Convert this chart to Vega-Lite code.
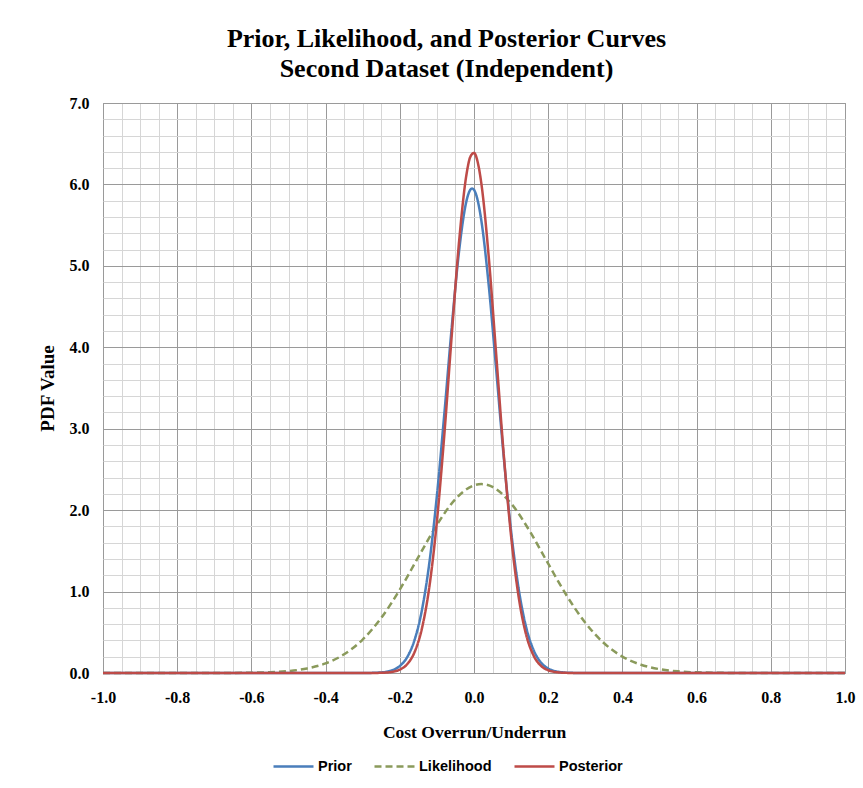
{
  "$schema": "https://vega.github.io/schema/vega-lite/v6.json",
  "width": 742,
  "height": 570,
  "autosize": {"type": "none"},
  "padding": {"left": 103, "top": 103, "right": 18, "bottom": 115},
  "background": "white",
  "title": {
    "text": ["Prior, Likelihood, and Posterior Curves", "Second Dataset (Independent)"],
    "font": "Liberation Serif",
    "fontSize": 26,
    "fontWeight": "bold",
    "color": "#000000",
    "lineHeight": 30,
    "offset": 13,
    "anchor": "middle",
    "frame": "bounds"
  },
  "config": {
    "view": {"stroke": "#8c8c8c", "strokeWidth": 1},
    "legend": {
      "orient": "none",
      "legendX": 169,
      "legendY": 642,
      "direction": "horizontal",
      "symbolType": "stroke",
      "symbolSize": 1600,
      "symbolStrokeWidth": 2.5,
      "labelFont": "Liberation Sans",
      "labelFontSize": 14.5,
      "labelFontWeight": "bold",
      "labelColor": "#000000",
      "columnPadding": 17,
      "labelOffset": 3
    }
  },
  "data": {
    "values": [
      {"x": -1.0, "series": "Likelihood", "pdf": 0},
      {"x": -0.9, "series": "Likelihood", "pdf": 0},
      {"x": -0.8, "series": "Likelihood", "pdf": 0},
      {"x": -0.75, "series": "Likelihood", "pdf": 0.0001},
      {"x": -0.7, "series": "Likelihood", "pdf": 0.0004},
      {"x": -0.65, "series": "Likelihood", "pdf": 0.0012},
      {"x": -0.6, "series": "Likelihood", "pdf": 0.0035},
      {"x": -0.55, "series": "Likelihood", "pdf": 0.0096},
      {"x": -0.5, "series": "Likelihood", "pdf": 0.024},
      {"x": -0.45, "series": "Likelihood", "pdf": 0.0555},
      {"x": -0.4, "series": "Likelihood", "pdf": 0.1177},
      {"x": -0.35, "series": "Likelihood", "pdf": 0.2294},
      {"x": -0.3, "series": "Likelihood", "pdf": 0.411},
      {"x": -0.25, "series": "Likelihood", "pdf": 0.677},
      {"x": -0.2, "series": "Likelihood", "pdf": 1.024},
      {"x": -0.15, "series": "Likelihood", "pdf": 1.424},
      {"x": -0.1, "series": "Likelihood", "pdf": 1.819},
      {"x": -0.05, "series": "Likelihood", "pdf": 2.136},
      {"x": 0.0, "series": "Likelihood", "pdf": 2.304},
      {"x": 0.02, "series": "Likelihood", "pdf": 2.32},
      {"x": 0.05, "series": "Likelihood", "pdf": 2.285},
      {"x": 0.1, "series": "Likelihood", "pdf": 2.082},
      {"x": 0.15, "series": "Likelihood", "pdf": 1.744},
      {"x": 0.2, "series": "Likelihood", "pdf": 1.342},
      {"x": 0.25, "series": "Likelihood", "pdf": 0.949},
      {"x": 0.3, "series": "Likelihood", "pdf": 0.617},
      {"x": 0.35, "series": "Likelihood", "pdf": 0.368},
      {"x": 0.4, "series": "Likelihood", "pdf": 0.202},
      {"x": 0.45, "series": "Likelihood", "pdf": 0.102},
      {"x": 0.5, "series": "Likelihood", "pdf": 0.0472},
      {"x": 0.55, "series": "Likelihood", "pdf": 0.0201},
      {"x": 0.6, "series": "Likelihood", "pdf": 0.0079},
      {"x": 0.65, "series": "Likelihood", "pdf": 0.0028},
      {"x": 0.7, "series": "Likelihood", "pdf": 0.0009},
      {"x": 0.75, "series": "Likelihood", "pdf": 0.0003},
      {"x": 0.8, "series": "Likelihood", "pdf": 0.0001},
      {"x": 0.9, "series": "Likelihood", "pdf": 0},
      {"x": 1.0, "series": "Likelihood", "pdf": 0},

      {"x": -1.0, "series": "Prior", "pdf": 0},
      {"x": -0.3, "series": "Prior", "pdf": 0.0004},
      {"x": -0.28, "series": "Prior", "pdf": 0.0013},
      {"x": -0.26, "series": "Prior", "pdf": 0.0043},
      {"x": -0.24, "series": "Prior", "pdf": 0.0127},
      {"x": -0.22, "series": "Prior", "pdf": 0.0345},
      {"x": -0.2, "series": "Prior", "pdf": 0.0861},
      {"x": -0.18, "series": "Prior", "pdf": 0.196},
      {"x": -0.16, "series": "Prior", "pdf": 0.409},
      {"x": -0.14, "series": "Prior", "pdf": 0.781},
      {"x": -0.12, "series": "Prior", "pdf": 1.364},
      {"x": -0.1, "series": "Prior", "pdf": 2.178},
      {"x": -0.08, "series": "Prior", "pdf": 3.18},
      {"x": -0.06, "series": "Prior", "pdf": 4.248},
      {"x": -0.04, "series": "Prior", "pdf": 5.191},
      {"x": -0.02, "series": "Prior", "pdf": 5.803},
      {"x": -0.01, "series": "Prior", "pdf": 5.934},
      {"x": -0.005, "series": "Prior", "pdf": 5.95},
      {"x": 0.0, "series": "Prior", "pdf": 5.934},
      {"x": 0.01, "series": "Prior", "pdf": 5.803},
      {"x": 0.02, "series": "Prior", "pdf": 5.55},
      {"x": 0.04, "series": "Prior", "pdf": 4.749},
      {"x": 0.06, "series": "Prior", "pdf": 3.716},
      {"x": 0.08, "series": "Prior", "pdf": 2.661},
      {"x": 0.1, "series": "Prior", "pdf": 1.743},
      {"x": 0.12, "series": "Prior", "pdf": 1.044},
      {"x": 0.14, "series": "Prior", "pdf": 0.572},
      {"x": 0.16, "series": "Prior", "pdf": 0.287},
      {"x": 0.18, "series": "Prior", "pdf": 0.1316},
      {"x": 0.2, "series": "Prior", "pdf": 0.0552},
      {"x": 0.22, "series": "Prior", "pdf": 0.0212},
      {"x": 0.24, "series": "Prior", "pdf": 0.0074},
      {"x": 0.26, "series": "Prior", "pdf": 0.0024},
      {"x": 0.28, "series": "Prior", "pdf": 0.0007},
      {"x": 0.3, "series": "Prior", "pdf": 0.0002},
      {"x": 1.0, "series": "Prior", "pdf": 0},

      {"x": -1.0, "series": "Posterior", "pdf": 0},
      {"x": -0.3, "series": "Posterior", "pdf": 0.0001},
      {"x": -0.28, "series": "Posterior", "pdf": 0.0003},
      {"x": -0.26, "series": "Posterior", "pdf": 0.0012},
      {"x": -0.24, "series": "Posterior", "pdf": 0.0044},
      {"x": -0.22, "series": "Posterior", "pdf": 0.0143},
      {"x": -0.2, "series": "Posterior", "pdf": 0.0416},
      {"x": -0.18, "series": "Posterior", "pdf": 0.109},
      {"x": -0.16, "series": "Posterior", "pdf": 0.259},
      {"x": -0.14, "series": "Posterior", "pdf": 0.554},
      {"x": -0.12, "series": "Posterior", "pdf": 1.069},
      {"x": -0.1, "series": "Posterior", "pdf": 1.862},
      {"x": -0.08, "series": "Posterior", "pdf": 2.925},
      {"x": -0.06, "series": "Posterior", "pdf": 4.148},
      {"x": -0.04, "series": "Posterior", "pdf": 5.309},
      {"x": -0.02, "series": "Posterior", "pdf": 6.13},
      {"x": -0.01, "series": "Posterior", "pdf": 6.338},
      {"x": 0.0, "series": "Posterior", "pdf": 6.387},
      {"x": 0.01, "series": "Posterior", "pdf": 6.273},
      {"x": 0.02, "series": "Posterior", "pdf": 6.005},
      {"x": 0.04, "series": "Posterior", "pdf": 5.095},
      {"x": 0.06, "series": "Posterior", "pdf": 3.901},
      {"x": 0.08, "series": "Posterior", "pdf": 2.695},
      {"x": 0.1, "series": "Posterior", "pdf": 1.68},
      {"x": 0.12, "series": "Posterior", "pdf": 0.945},
      {"x": 0.14, "series": "Posterior", "pdf": 0.48},
      {"x": 0.16, "series": "Posterior", "pdf": 0.22},
      {"x": 0.18, "series": "Posterior", "pdf": 0.0908},
      {"x": 0.2, "series": "Posterior", "pdf": 0.0339},
      {"x": 0.22, "series": "Posterior", "pdf": 0.0114},
      {"x": 0.24, "series": "Posterior", "pdf": 0.0035},
      {"x": 0.26, "series": "Posterior", "pdf": 0.0009},
      {"x": 0.28, "series": "Posterior", "pdf": 0.0003},
      {"x": 0.3, "series": "Posterior", "pdf": 0.0001},
      {"x": 1.0, "series": "Posterior", "pdf": 0}
    ]
  },
  "mark": {"type": "line", "interpolate": "monotone", "strokeWidth": 2.5},
  "encoding": {
    "x": {
      "field": "x",
      "type": "quantitative",
      "scale": {"domain": [-1, 1], "nice": false, "zero": false},
      "axis": {
        "title": "Cost Overrun/Underrun",
        "values": [-1, -0.95, -0.9, -0.85, -0.8, -0.75, -0.7, -0.65, -0.6, -0.55, -0.5, -0.45, -0.4, -0.35, -0.3, -0.25, -0.2, -0.15, -0.1, -0.05, 0, 0.05, 0.1, 0.15, 0.2, 0.25, 0.3, 0.35, 0.4, 0.45, 0.5, 0.55, 0.6, 0.65, 0.7, 0.75, 0.8, 0.85, 0.9, 0.95, 1],
        "format": ".1f",
        "labelExpr": "abs(datum.value*5 - round(datum.value*5)) < 0.001 ? replace(datum.label, '\u2212', '-') : ''",
        "ticks": false,
        "domain": false,
        "grid": true,
        "gridWidth": 1,
        "gridColor": {"condition": {"test": "abs(datum.value*5 - round(datum.value*5)) < 0.001", "value": "#9a9a9a"}, "value": "#d6d6d6"},
        "labelFont": "Liberation Serif",
        "labelFontWeight": "bold",
        "labelFontSize": 16,
        "labelColor": "#000000",
        "labelPadding": 16,
        "labelFlush": false,
        "labelOverlap": false,
        "titleFont": "Liberation Serif",
        "titleFontSize": 17.5,
        "titleFontWeight": "bold",
        "titleColor": "#000000",
        "titlePadding": 18
      }
    },
    "y": {
      "field": "pdf",
      "type": "quantitative",
      "scale": {"domain": [0, 7], "nice": false},
      "axis": {
        "title": "PDF Value",
        "values": [0, 0.2, 0.4, 0.6, 0.8, 1, 1.2, 1.4, 1.6, 1.8, 2, 2.2, 2.4, 2.6, 2.8, 3, 3.2, 3.4, 3.6, 3.8, 4, 4.2, 4.4, 4.6, 4.8, 5, 5.2, 5.4, 5.6, 5.8, 6, 6.2, 6.4, 6.6, 6.8, 7],
        "format": ".1f",
        "labelExpr": "abs(datum.value - round(datum.value)) < 0.001 ? datum.label : ''",
        "ticks": false,
        "domain": false,
        "grid": true,
        "gridWidth": 1,
        "gridColor": {"condition": {"test": "abs(datum.value - round(datum.value)) < 0.001", "value": "#9a9a9a"}, "value": "#d6d6d6"},
        "labelFont": "Liberation Serif",
        "labelFontWeight": "bold",
        "labelFontSize": 16,
        "labelColor": "#000000",
        "labelPadding": 14,
        "labelOverlap": false,
        "titleFont": "Liberation Serif",
        "titleFontSize": 19,
        "titleFontWeight": "bold",
        "titleColor": "#000000",
        "titlePadding": 12
      }
    },
    "color": {
      "field": "series",
      "type": "nominal",
      "scale": {"domain": ["Prior", "Likelihood", "Posterior"], "range": ["#4a7ebb", "#8a9a5b", "#be4b48"]},
      "legend": {"title": null}
    },
    "strokeDash": {
      "field": "series",
      "type": "nominal",
      "scale": {"domain": ["Prior", "Likelihood", "Posterior"], "range": [[1, 0], [7, 4], [1, 0]]},
      "legend": {"title": null}
    }
  }
}
